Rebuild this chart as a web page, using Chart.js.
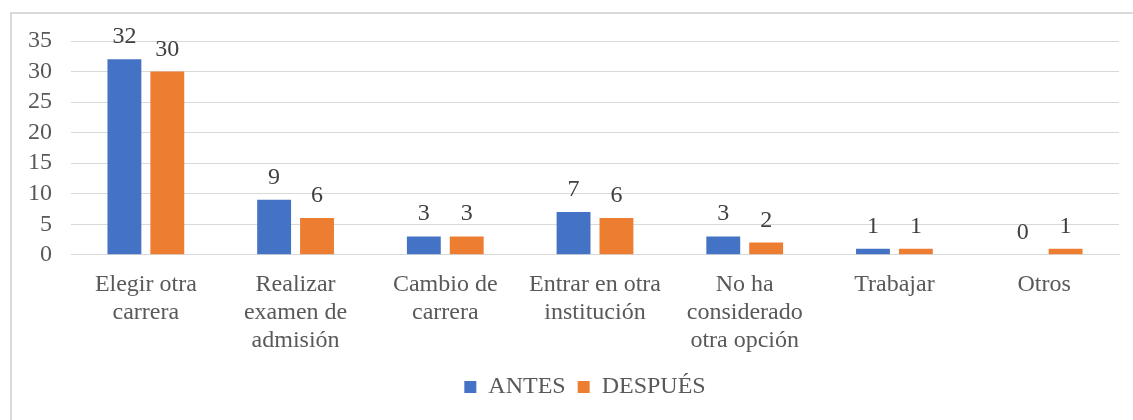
<!DOCTYPE html>
<html>
<head>
<meta charset="utf-8">
<script src="https://cdn.jsdelivr.net/npm/chart.js@4/dist/chart.umd.min.js"></script>
<style>
  body { margin: 0; background: #fff; }
  #wrap { position: relative; width: 1133px; height: 420px; overflow: hidden; }
  #frame { position: absolute; left: 10px; top: 12px; width: 1200px; height: 500px;
           border-left: 2px solid #d9d9d9; border-top: 2px solid #d9d9d9; }
  canvas { position: absolute; left: 0; top: 0; }
</style>
</head>
<body>
<div id="wrap">
  <div id="frame"></div>
  <canvas id="barChart" width="1133" height="420"></canvas>
</div>
<script>
const categories = [
  ["Elegir otra", "carrera"],
  ["Realizar", "examen de", "admisión"],
  ["Cambio de", "carrera"],
  ["Entrar en otra", "institución"],
  ["No ha", "considerado", "otra opción"],
  ["Trabajar"],
  ["Otros"]
];
const antes = [32, 9, 3, 7, 3, 1, 0];
const despues = [30, 6, 3, 6, 2, 1, 1];
const yTicks = [0, 5, 10, 15, 20, 25, 30, 35];

const FONT = "'Liberation Serif', 'Times New Roman', serif";

// value labels above each bar
const valueLabels = {
  id: "valueLabels",
  afterDatasetsDraw(chart) {
    const ctx = chart.ctx;
    ctx.save();
    ctx.font = "24px " + FONT;
    ctx.fillStyle = "#404040";
    ctx.textAlign = "center";
    ctx.textBaseline = "alphabetic";
    chart.data.datasets.forEach((ds, i) => {
      chart.getDatasetMeta(i).data.forEach((bar, j) => {
        ctx.fillText(String(ds.data[j]), bar.x, bar.y - 16);
      });
    });
    ctx.restore();
  }
};

// legend sits a bit right of the canvas centre in the original
const legendShift = {
  id: "legendShift",
  afterLayout(chart) {
    chart.legend.left += 21;
    chart.legend.right += 21;
  }
};

const ctx = document.getElementById("barChart").getContext("2d");
new Chart(ctx, {
  type: "bar",
  data: {
    labels: categories,
    datasets: [
      {
        label: "ANTES",
        data: antes,
        backgroundColor: "#4472C4",
        categoryPercentage: 0.573,
        barPercentage: 0.79
      },
      {
        label: "DESPUÉS",
        data: despues,
        backgroundColor: "#ED7D31",
        categoryPercentage: 0.573,
        barPercentage: 0.79
      }
    ]
  },
  options: {
    responsive: false,
    animation: false,
    layout: { padding: { top: 41, left: 9, right: 14, bottom: 11 } },
    scales: {
      x: {
        grid: { display: false },
        border: { color: "#d9d9d9", width: 1 },
        ticks: {
          color: "#595959",
          font: { family: FONT, size: 24, lineHeight: 1.17 },
          maxRotation: 0,
          autoSkip: false,
          padding: 8
        }
      },
      y: {
        min: 0,
        max: 35,
        afterBuildTicks: (axis) => {
          axis.ticks = yTicks.map((v) => ({ value: v }));
        },
        grid: { color: "#d9d9d9", lineWidth: 1, drawTicks: false },
        border: { display: false },
        ticks: {
          color: "#595959",
          font: { family: FONT, size: 24 },
          autoSkip: false,
          padding: 19
        }
      }
    },
    plugins: {
      legend: {
        position: "bottom",
        labels: {
          color: "#595959",
          font: { family: FONT, size: 24 },
          boxWidth: 12,
          boxHeight: 12,
          padding: 12
        }
      },
      tooltip: { enabled: false }
    }
  },
  plugins: [valueLabels, legendShift]
});
</script>
</body>
</html>
